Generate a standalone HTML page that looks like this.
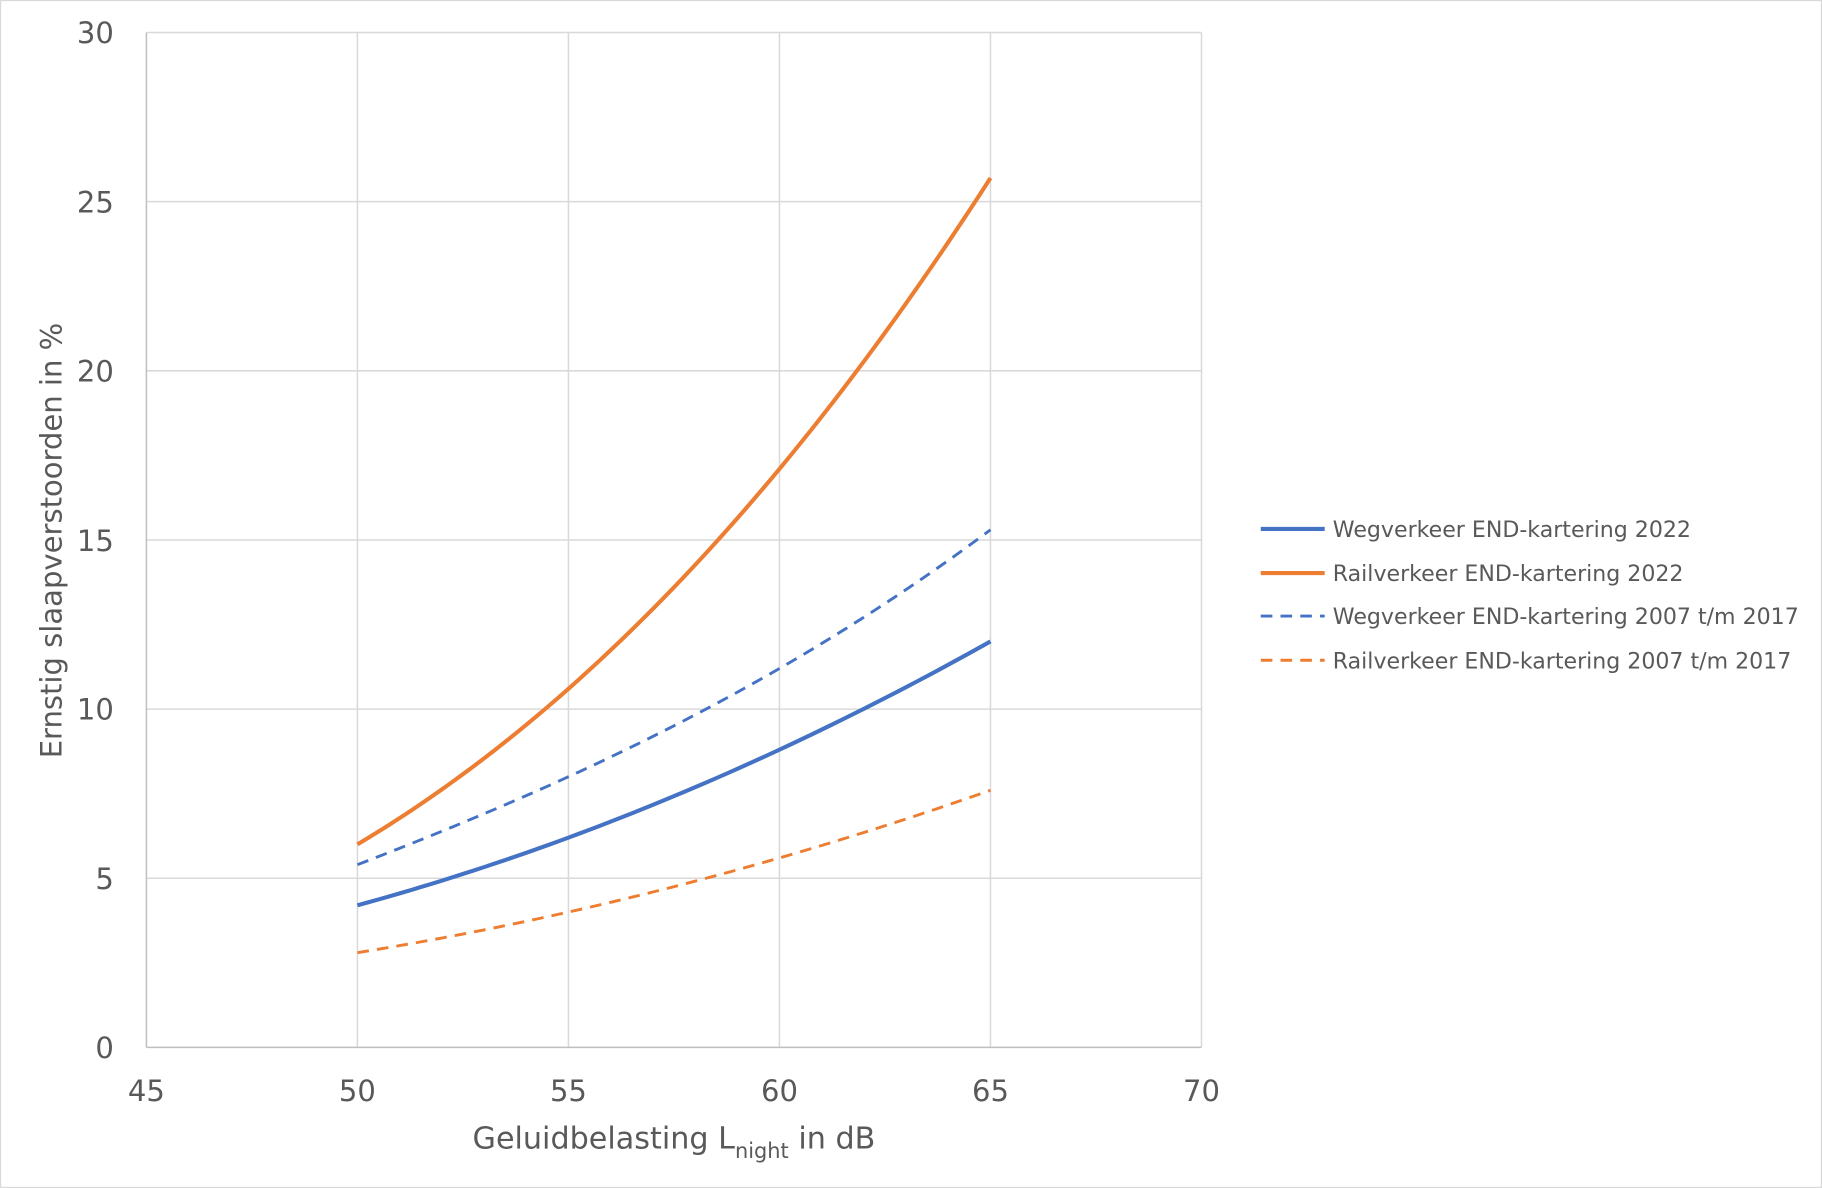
<!DOCTYPE html>
<html><head><meta charset="utf-8"><style>
html,body{margin:0;padding:0;background:#fff;}
svg{display:block;}
text{font-family:"DejaVu Sans","Liberation Sans",sans-serif;fill:#595959;}
</style></head><body>
<svg id="s" width="1822" height="1188" viewBox="0 0 1568 1022" preserveAspectRatio="none" xmlns="http://www.w3.org/2000/svg">
<rect x="0.5" y="0.5" width="1567" height="1021" fill="#fff" stroke="#d9d9d9" stroke-width="1"/>
<g stroke="#d9d9d9" stroke-width="1.3">
<line x1="126" y1="28" x2="1034" y2="28"/>
<line x1="126" y1="173.5" x2="1034" y2="173.5"/>
<line x1="126" y1="319" x2="1034" y2="319"/>
<line x1="126" y1="464.5" x2="1034" y2="464.5"/>
<line x1="126" y1="610" x2="1034" y2="610"/>
<line x1="126" y1="755.5" x2="1034" y2="755.5"/>
<line x1="307.6" y1="28" x2="307.6" y2="901"/>
<line x1="489.2" y1="28" x2="489.2" y2="901"/>
<line x1="670.8" y1="28" x2="670.8" y2="901"/>
<line x1="852.4" y1="28" x2="852.4" y2="901"/>
<line x1="1034" y1="28" x2="1034" y2="901"/>
</g>
<g stroke="#bfbfbf" stroke-width="1.3">
<line x1="126" y1="28" x2="126" y2="901"/>
<line x1="126" y1="901" x2="1034" y2="901"/>
</g>
<g font-size="25" text-anchor="end">
<text x="98" y="37">30</text><text x="98" y="183">25</text><text x="98" y="328">20</text>
<text x="98" y="474">15</text><text x="98" y="619">10</text><text x="98" y="765">5</text><text x="98" y="910">0</text>
</g>
<g font-size="25" text-anchor="middle">
<text x="126" y="947">45</text><text x="307.6" y="947">50</text><text x="489.2" y="947">55</text>
<text x="670.8" y="947">60</text><text x="852.4" y="947">65</text><text x="1034" y="947">70</text>
</g>
<text x="580" y="988" font-size="26" text-anchor="middle">Geluidbelasting L<tspan font-size="18" dy="8">night</tspan><tspan dy="-8"> in dB</tspan></text>
<text transform="translate(53,465) rotate(-90)" font-size="25" text-anchor="middle">Ernstig slaapverstoorden in %</text>
<g id="curves" fill="none" stroke-width="3.5"></g>
<g font-size="19">
<line x1="1085" y1="455" x2="1140" y2="455" stroke="#4472c4" stroke-width="3.5"/>
<text x="1147" y="462">Wegverkeer END-kartering 2022</text>
<line x1="1085" y1="493" x2="1140" y2="493" stroke="#ed7d31" stroke-width="3.5"/>
<text x="1147" y="500">Railverkeer END-kartering 2022</text>
<line x1="1085" y1="530" x2="1140" y2="530" stroke="#4472c4" stroke-width="2.5" stroke-dasharray="10,7"/>
<text x="1147" y="537">Wegverkeer END-kartering 2007 t/m 2017</text>
<line x1="1085" y1="568" x2="1140" y2="568" stroke="#ed7d31" stroke-width="2.5" stroke-dasharray="10,7"/>
<text x="1147" y="575">Railverkeer END-kartering 2007 t/m 2017</text>
</g>
</svg>
<script>
var series=[
 {c:"#ed7d31",d:[6.0,10.6,17.1,25.7],w:3.5,dash:""},
 {c:"#4472c4",d:[4.2,6.2,8.8,12.0],w:3.5,dash:""},
 {c:"#4472c4",d:[5.4,8.0,11.2,15.3],w:2.5,dash:"10,7"},
 {c:"#ed7d31",d:[2.8,4.0,5.6,7.6],w:2.5,dash:"10,7"}];
var xs=[50,55,60,65];
function lag(d,x){var s=0;for(var i=0;i<4;i++){var p=d[i];for(var j=0;j<4;j++)if(j!=i)p*=(x-xs[j])/(xs[i]-xs[j]);s+=p;}return s;}
var g=document.getElementById("curves");
series.forEach(function(s){var pts=[];for(var x=50;x<=65.001;x+=0.25){var v=lag(s.d,x);pts.push((126+(x-45)*36.32).toFixed(2)+","+(901-v*29.1).toFixed(2));}
var p=document.createElementNS("http://www.w3.org/2000/svg","polyline");p.setAttribute("points",pts.join(" "));p.setAttribute("stroke",s.c);p.setAttribute("stroke-width",s.w);if(s.dash)p.setAttribute("stroke-dasharray",s.dash);g.appendChild(p);});
</script>
</body></html>
